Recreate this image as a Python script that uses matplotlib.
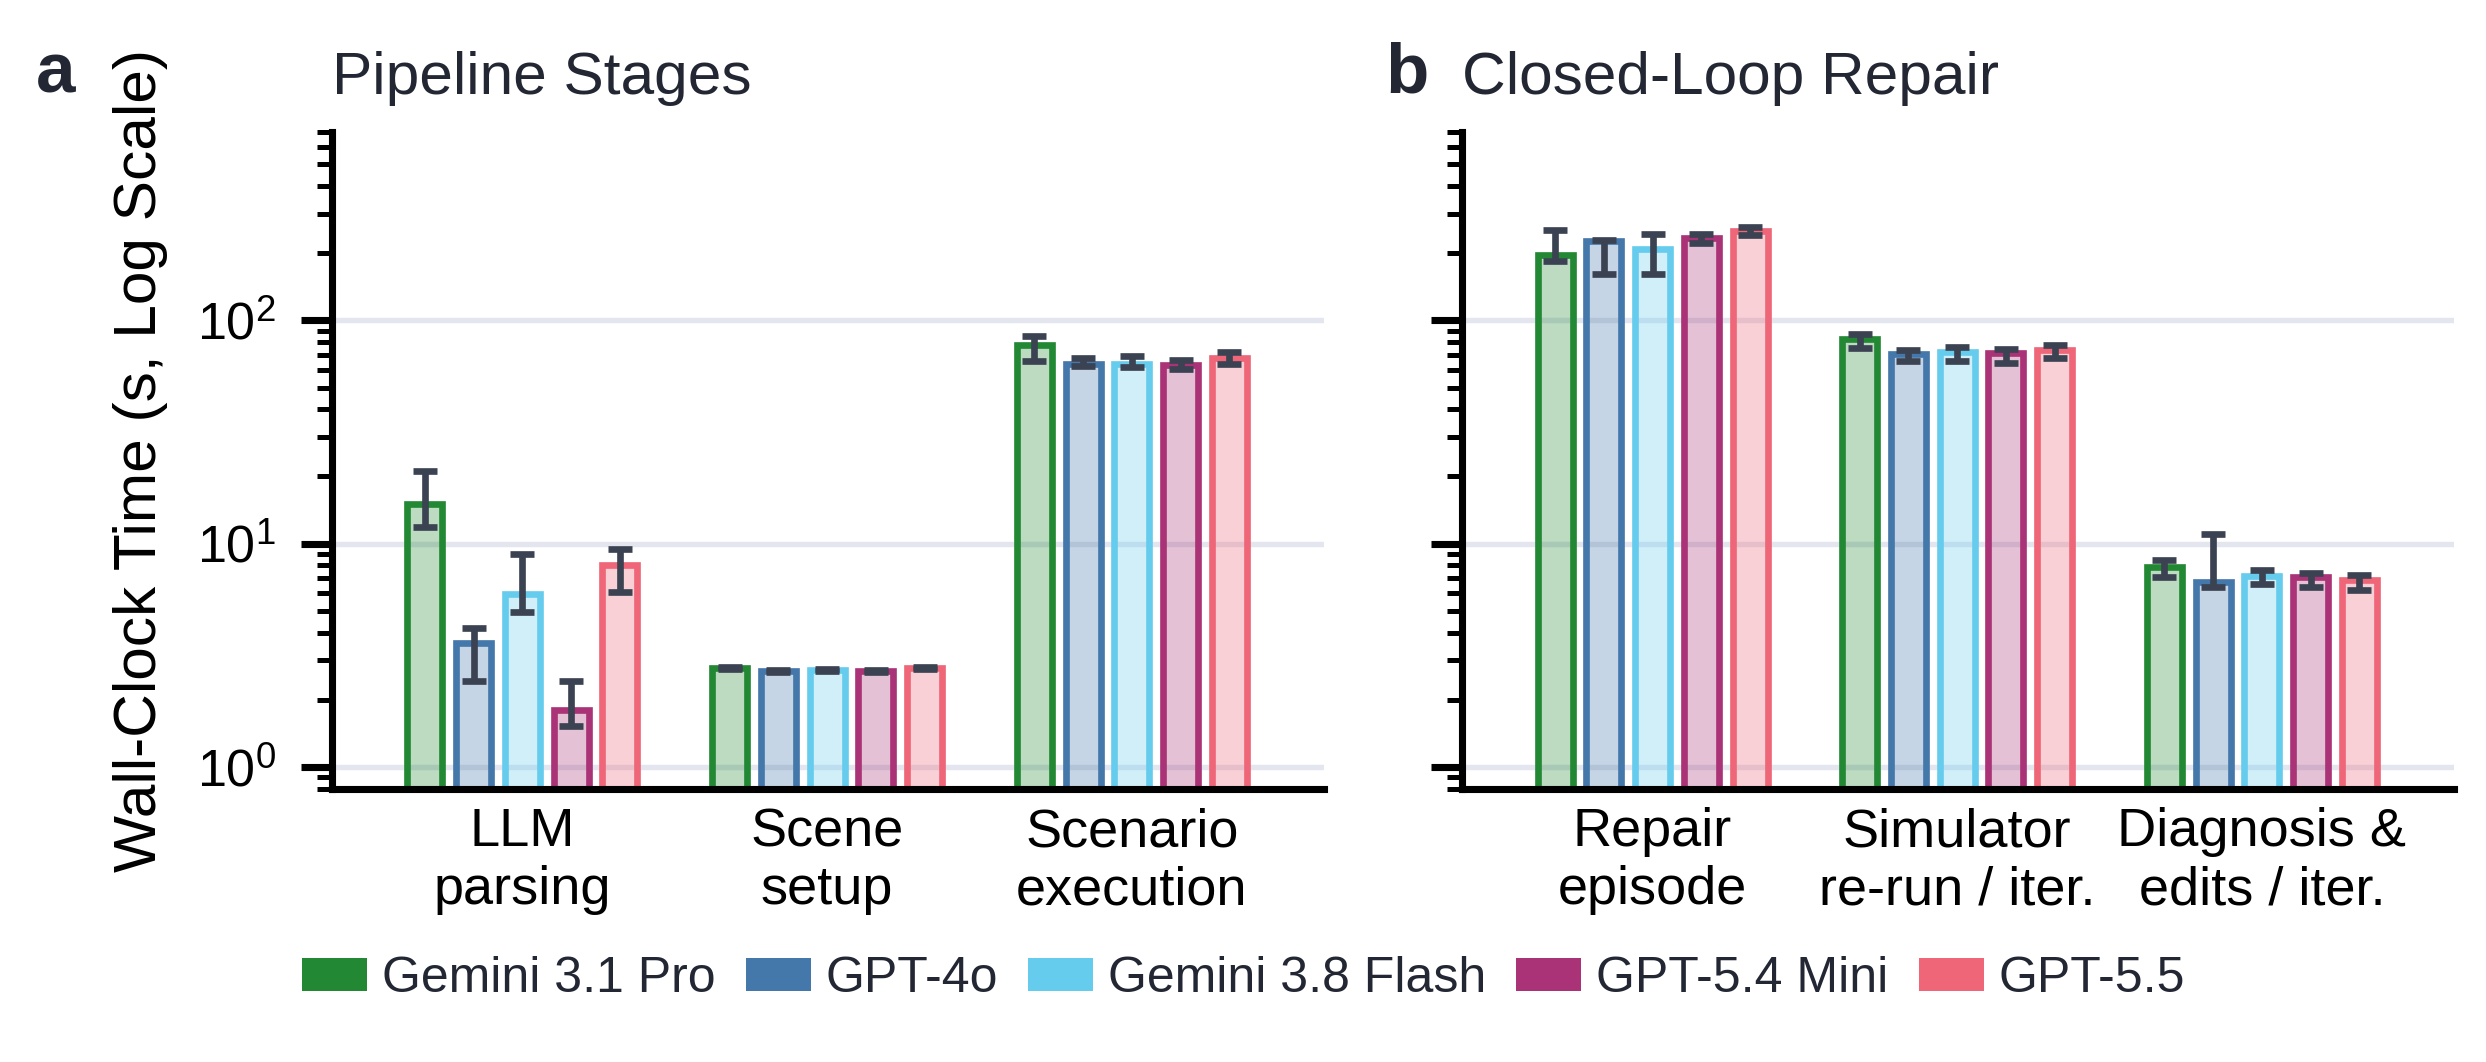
import numpy as np
import matplotlib
matplotlib.use("Agg")
import matplotlib.pyplot as plt
from matplotlib.patches import Patch

plt.rcParams['font.family'] = ['Liberation Sans', 'DejaVu Sans']

# --- datos ---
modelos = ["Gemini 3.1 Pro", "GPT-4o", "Gemini 3.8 Flash", "GPT-5.4 Mini", "GPT-5.5"]
colores = ["#228833", "#4477AA", "#66CCEE", "#AA3377", "#EE6677"]

etapas = ["LLM\nparsing", "Scene\nsetup", "Scenario\nexecution"]
etapas_media = [
    [15.1, 2.77, 77.6],
    [3.58, 2.70, 64.0],
    [5.95, 2.71, 64.0],
    [1.80, 2.70, 62.8],
    [8.05, 2.78, 67.6],
]
etapas_min = [
    [11.9, 2.74, 65.5],
    [2.43, 2.67, 62.5],
    [4.92, 2.68, 61.9],
    [1.52, 2.67, 60.8],
    [6.10, 2.75, 64.0],
]
etapas_max = [
    [21.2, 2.80, 85.5],
    [4.20, 2.73, 67.5],
    [9.00, 2.74, 69.0],
    [2.43, 2.73, 66.5],
    [9.50, 2.81, 72.5],
]

reparacion = ["Repair\nepisode", "Simulator\nre-run / iter.", "Diagnosis &\nedits / iter."]
reparacion_media = [
    [196, 82.4, 7.87],
    [227, 70.8, 6.76],
    [209, 72.4, 7.18],
    [233, 71.1, 7.08],
    [252, 73.8, 6.86],
]
reparacion_min = [
    [185, 75.5, 7.08],
    [162, 65.5, 6.39],
    [161, 65.5, 6.63],
    [222, 64.6, 6.39],
    [240, 67.6, 6.20],
]
reparacion_max = [
    [255, 86.9, 8.42],
    [230, 73.6, 11.1],
    [243, 75.9, 7.63],
    [244, 74.5, 7.41],
    [262, 77.6, 7.24],
]

texto_oscuro = "#222733"
color_error = "#3b4252"


def dibujar_panel(ax, categorias, medias, minimos, maximos, titulo):
    x = np.arange(len(categorias))
    paso = 0.16
    ancho = 0.115
    for i, (m, c) in enumerate(zip(modelos, colores)):
        pos = x + (i - 2) * paso
        med = np.array(medias[i])
        err = [med - np.array(minimos[i]), np.array(maximos[i]) - med]
        ax.bar(pos, med, ancho, color=(c, 0.3), edgecolor=c, linewidth=1.6, zorder=2)
        ax.errorbar(pos, med, yerr=err, fmt='none', ecolor=color_error,
                    elinewidth=1.6, capsize=2.8, capthick=1.6, zorder=3)
    ax.set_yscale('log')
    ax.set_ylim(0.8, 700)
    ax.set_xlim(-0.625, 2.632)
    ax.set_xticks(x)
    ax.set_xticklabels(categorias, fontsize=13)
    ax.tick_params(axis='x', length=0, pad=4.5)
    ax.tick_params(axis='y', which='major', length=7.4, width=1.7, labelsize=12.5, pad=6)
    ax.tick_params(axis='y', which='minor', length=3.6, width=1.2)
    ax.yaxis.grid(True, which='major', color='#e3e6ee', linewidth=1.3)
    ax.set_axisbelow(True)
    for lado in ['top', 'right']:
        ax.spines[lado].set_visible(False)
    for lado in ['left', 'bottom']:
        ax.spines[lado].set_linewidth(1.7)
    ax.set_title(titulo, loc='left', fontsize=14.5, color=texto_oscuro, pad=9)


fig = plt.figure(figsize=(8.29, 3.54), dpi=300)
ax1 = fig.add_axes([0.1335, 0.2574, 0.399, 0.6187])
ax2 = fig.add_axes([0.5879, 0.2574, 0.399, 0.6187])

dibujar_panel(ax1, etapas, etapas_media, etapas_min, etapas_max, "Pipeline Stages")
dibujar_panel(ax2, reparacion, reparacion_media, reparacion_min, reparacion_max, "Closed-Loop Repair")
ax2.tick_params(axis='y', which='both', labelleft=False)

ax1.set_ylabel("Wall-Clock Time (s, Log Scale)", fontsize=14.5, labelpad=7)

fig.text(0.0145, 0.9127, "a", fontsize=17, fontweight='bold', color=texto_oscuro, va='baseline')
fig.text(0.557, 0.9127, "b", fontsize=17, fontweight='bold', color=texto_oscuro, va='baseline')

manijas = [Patch(facecolor=c, edgecolor='none', label=m) for m, c in zip(modelos, colores)]
fig.legend(handles=manijas, loc='center', bbox_to_anchor=(0.5, 0.078), ncol=5, frameon=False,
           fontsize=12, handlelength=1.3, handleheight=0.65, handletextpad=0.3,
           columnspacing=0.6, labelcolor=texto_oscuro)

fig.savefig("out.png", dpi=300)
